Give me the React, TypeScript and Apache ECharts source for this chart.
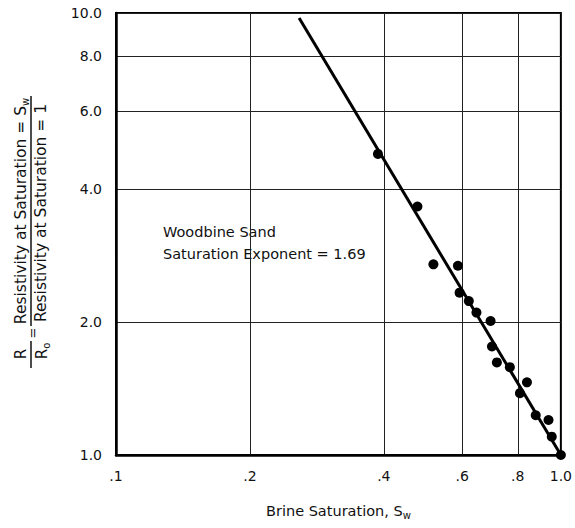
import React, { useEffect, useRef } from "react";
import * as echarts from "echarts";

const xTicks = [0.1, 0.2, 0.4, 0.6, 0.8, 1.0];
const yTicks = [1, 2, 4, 6, 8, 10];
const satX = [0.388, 0.476, 0.517, 0.587, 0.592, 0.621, 0.646, 0.695, 0.7, 0.718, 0.768, 0.839, 0.809, 0.878, 0.938, 0.954, 1.0];
const ratioY = [4.8, 3.65, 2.7, 2.68, 2.33, 2.23, 2.1, 2.01, 1.76, 1.62, 1.58, 1.46, 1.38, 1.23, 1.2, 1.1, 1.0];
const fitX = [0.258, 1.0];
const fitY = [9.74, 1.0];
const noteLines = ["Woodbine Sand", "Saturation Exponent = 1.69"];

const FONT = "DejaVu Sans";

export default function App() {
  const ref = useRef<HTMLDivElement>(null);
  useEffect(() => {
    if (!ref.current) return;
    const chart = echarts.init(ref.current, null, { renderer: "svg" });
    const sub = { fontSize: 10, fontFamily: FONT, padding: [9, 0, 0, 0], color: "#111" };
    chart.setOption({
      animation: false,
      backgroundColor: "#fff",
      textStyle: { fontFamily: FONT },
      grid: { left: 116, right: 11, top: 13, bottom: 73, show: true, borderColor: "#000", borderWidth: 2 },
      xAxis: {
        type: "log",
        logBase: 10,
        min: 0.1,
        max: 1,
        name: "Brine Saturation, S{sub|w}",
        nameLocation: "middle",
        nameGap: 46,
        nameTextStyle: { fontFamily: FONT, fontSize: 14.5, color: "#111", rich: { sub } },
        axisLine: { show: true, lineStyle: { color: "#000", width: 2.5 } },
        axisTick: { show: false, customValues: xTicks },
        axisLabel: {
          customValues: xTicks,
          fontFamily: FONT,
          fontSize: 14,
          color: "#111",
          margin: 14,
          formatter: (v: number) => (v >= 0.999 ? "1.0" : "." + Math.round(v * 10)),
        },
        splitLine: { show: true, lineStyle: { color: "#222", width: 1 } },
        minorSplitLine: { show: false },
      },
      yAxis: {
        type: "log",
        logBase: 10,
        min: 1,
        max: 10,
        axisLine: { show: true, lineStyle: { color: "#000", width: 2.5 } },
        axisTick: { show: false, customValues: yTicks },
        axisLabel: {
          customValues: yTicks,
          fontFamily: FONT,
          fontSize: 14,
          color: "#111",
          margin: 14,
          formatter: (v: number) => v.toFixed(1),
        },
        splitLine: { show: true, lineStyle: { color: "#222", width: 1 } },
      },
      graphic: [
        {
          type: "text",
          left: 163,
          top: 221,
          style: { text: noteLines.join("\n"), font: `14.5px "${FONT}"`, fill: "#111", lineHeight: 22 },
        },
        {
          type: "group",
          x: 31,
          y: 230,
          rotation: Math.PI / 2,
          children: [
            {
              type: "text",
              x: 19,
              y: -10,
              style: {
                text: "Resistivity at Saturation = S{sub|w}",
                font: `15.5px "${FONT}"`,
                fill: "#111",
                align: "center",
                verticalAlign: "middle",
                rich: { sub },
              },
            },
            { type: "line", shape: { x1: -96, y1: 0, x2: 134, y2: 0 }, style: { stroke: "#111", lineWidth: 1.5 } },
            {
              type: "text",
              x: 17,
              y: 10,
              style: {
                text: "Resistivity at Saturation = 1",
                font: `15.5px "${FONT}"`,
                fill: "#111",
                align: "center",
                verticalAlign: "middle",
              },
            },
            {
              type: "text",
              x: -103,
              y: 1,
              style: { text: "=", font: `13px "${FONT}"`, fill: "#111", align: "center", verticalAlign: "middle" },
            },
            {
              type: "text",
              x: -124,
              y: -10,
              style: { text: "R", font: `15px "${FONT}"`, fill: "#111", align: "center", verticalAlign: "middle" },
            },
            { type: "line", shape: { x1: -111, y1: 0, x2: -138, y2: 0 }, style: { stroke: "#111", lineWidth: 1.5 } },
            {
              type: "text",
              x: -121,
              y: 11,
              style: {
                text: "R{sub|o}",
                font: `15px "${FONT}"`,
                fill: "#111",
                align: "center",
                verticalAlign: "middle",
                rich: { sub: { fontSize: 10, fontFamily: FONT, padding: [8, 0, 0, 0] } },
              },
            },
          ],
        },
      ],
      series: [
        {
          type: "line",
          data: fitX.map((x, i) => [x, fitY[i]]),
          symbol: "none",
          lineStyle: { color: "#000", width: 3 },
          z: 3,
        },
        {
          type: "scatter",
          data: satX.map((x, i) => [x, ratioY[i]]),
          symbol: "circle",
          symbolSize: 10,
          itemStyle: { color: "#000", opacity: 1 },
          z: 4,
        },
      ],
    });
    return () => chart.dispose();
  }, []);
  return <div ref={ref} style={{ width: 575, height: 528, position: "absolute", left: 0, top: 0 }} />;
}
